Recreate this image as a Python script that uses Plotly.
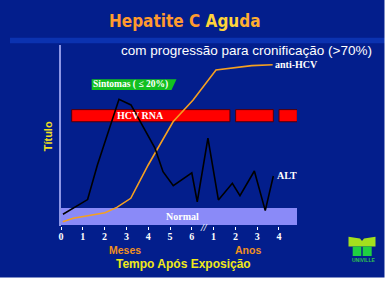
import plotly.graph_objects as go

# ---- data ----
tick_vals = [0, 1, 2, 3, 4, 5, 6, 7, 8, 9, 10]
tick_text = ["0", "1", "2", "3", "4", "5", "6", "1", "2", "3", "4"]

alt_x = [0.09, 0.69, 1.22, 1.67, 2.66, 3.21, 4.31, 4.68, 5.15, 6.0, 6.25, 6.74, 7.22, 7.86, 8.21, 8.87, 9.37, 9.74]
alt_y = [6.5, 11.0, 14.6, 33.7, 70.0, 66.9, 43.0, 30.0, 22.3, 29.4, 13.4, 48.6, 14.4, 23.6, 16.7, 30.4, 8.5, 27.6]

anti_x = [0.08, 0.56, 2.02, 2.56, 3.2, 4.0, 5.14, 6.06, 7.11, 8.75, 9.71]
anti_y = [2.4, 4.3, 7.3, 10.3, 15.3, 33.7, 57.6, 69.6, 86.2, 88.6, 89.1]

rna_start = [0.49, 8.01, 10.0]
rna_len = [7.26, 1.73, 0.84]
rna_level = 60.95

normal_low, normal_high = 0.55, 9.9

BG = "#031e8c"
W, H = 387, 281
L, R, T, B = 61, 90, 45, 55
PW, PH = W - L - R, H - T - B


def px(x):
    return (x - L) / PW


def py(y):
    return (H - B - y) / PH


fig = go.Figure()

fig.add_trace(go.Bar(
    y=[rna_level] * len(rna_start), x=rna_len, base=rna_start, orientation="h",
    width=6.7, marker=dict(color="#ff0000", line=dict(color="#4a0010", width=1)),
    hoverinfo="skip", showlegend=False))

fig.add_trace(go.Scatter(x=anti_x, y=anti_y, mode="lines",
                         line=dict(color="#f5a020", width=1.6), showlegend=False))
fig.add_trace(go.Scatter(x=alt_x, y=alt_y, mode="lines",
                         line=dict(color="#000000", width=1.6), showlegend=False))

shapes = []
# Normal band
shapes.append(dict(type="rect", xref="paper", yref="y", x0=0, x1=1, y0=normal_low, y1=normal_high,
                   fillcolor="#8a8af8", line=dict(width=0), layer="below"))
# strip under title
shapes.append(dict(type="rect", xref="paper", yref="paper", x0=px(10), x1=px(387), y0=py(43.3), y1=py(37.7),
                   fillcolor="#0b32b0", line=dict(width=0), layer="below"))
# white borders
shapes.append(dict(type="rect", xref="paper", yref="paper", x0=px(-5), x1=px(392), y0=py(286), y1=py(277.5),
                   fillcolor="#ffffff", line=dict(width=0)))
shapes.append(dict(type="rect", xref="paper", yref="paper", x0=px(384.5), x1=px(392), y0=py(286), y1=py(-5),
                   fillcolor="#ffffff", line=dict(width=0)))
# Sintomas flag
fx0, fx1, fx2 = px(91.7), px(176.5), px(171.5)
fy0, fy1 = py(90), py(79.3)
shapes.append(dict(type="path", xref="paper", yref="paper",
                   path=f"M {fx0} {fy0} L {fx0} {fy1} L {fx1} {fy1} L {fx2} {fy0} Z",
                   fillcolor="#12c020", line=dict(width=0)))
# Logo
lime = "#a3e01e"
green = "#1fd040"
shapes.append(dict(type="path", xref="paper", yref="paper",
                   path=f"M {px(348.5)} {py(236.7)} L {px(360)} {py(238.5)} L {px(362)} {py(241)} L {px(364)} {py(238.5)} "
                        f"L {px(375.5)} {py(236.7)} L {px(375.5)} {py(246.5)} L {px(348.5)} {py(246.5)} Z",
                   fillcolor=lime, line=dict(width=0)))
shapes.append(dict(type="rect", xref="paper", yref="paper", x0=px(352.7), x1=px(361.3), y0=py(256), y1=py(246.5),
                   fillcolor=green, line=dict(width=0)))
shapes.append(dict(type="rect", xref="paper", yref="paper", x0=px(362.7), x1=px(371.7), y0=py(256), y1=py(246.5),
                   fillcolor=green, line=dict(width=0)))

serif = "Liberation Serif, Times New Roman, serif"
sans = "Liberation Sans, Arial, sans-serif"

annotations = []


def ann(text, x, y, size, color, family=sans, weight="normal", angle=0, xanchor="center"):
    annotations.append(dict(text=text, x=px(x), y=py(y), xref="paper", yref="paper",
                            showarrow=False, xanchor=xanchor, yanchor="middle", textangle=angle,
                            font=dict(size=size, color=color, family=family, weight=weight)))


title_font = "Liberation Sans Narrow, DejaVu Sans Condensed, Arial Narrow, sans-serif"
ann("<span style='color:#ff9a2e'>Hepatite C </span><span style='color:#ffd43a'>Agu</span>"
    "<span style='color:#ffae30'>da</span>", 185, 21, 17, "#ffa030", family=title_font, weight="bold")
ann("com progressão para cronificação (>70%)", 246, 50.5, 13.5, "#ffffff")
ann("Título", 48.3, 136, 11, "#f0e020", weight="bold", angle=-90)
ann("Sintomas ( ≤ 20%)", 130, 84.8, 9.5, "#ffffff", family=serif, weight="bold")
ann("HCV RNA", 140, 115.5, 10, "#ffffff", family=serif, weight="bold")
ann("Normal", 182.5, 216.5, 10, "#ffffff", family=serif, weight="bold")
ann("anti-HCV", 296.7, 64.5, 10, "#ffffff", family=serif, weight="bold")
ann("ALT", 287, 175, 10, "#ffffff", family=serif, weight="bold")
ann("<i>//</i>", 203.5, 227.5, 10, "#ffffff", family=serif, weight="bold")
ann("Meses", 124.7, 249.5, 10.5, "#f09020", weight="bold")
ann("Anos", 247.5, 249.5, 10.5, "#f09020", weight="bold")
ann("Tempo Após Exposição", 183, 264, 12, "#f0e818", weight="bold")
ann("UNIVILLE", 363.3, 259.7, 5, "#30c050", weight="bold")

fig.update_layout(
    width=W, height=H,
    margin=dict(l=L, r=R, t=T, b=B, pad=0),
    paper_bgcolor=BG, plot_bgcolor=BG,
    barmode="overlay",
    showlegend=False,
    hovermode=False,
    shapes=shapes,
    annotations=annotations,
    xaxis=dict(range=[0, 10.826], tickvals=tick_vals, ticktext=tick_text,
               showgrid=False, zeroline=False, showline=False,
               ticks="outside", ticklen=3, tickcolor="#ffffff", tickwidth=1,
               ticklabelstandoff=-2,
               tickfont=dict(family=serif, size=10, color="#ffffff", weight="bold"),
               fixedrange=True),
    yaxis=dict(range=[0, 100], showgrid=False, zeroline=False, showticklabels=False,
               showline=True, linecolor="#8d96e6", linewidth=1.5, ticks="", fixedrange=True),
)

fig.write_html("out.html", config=dict(displayModeBar=False))
